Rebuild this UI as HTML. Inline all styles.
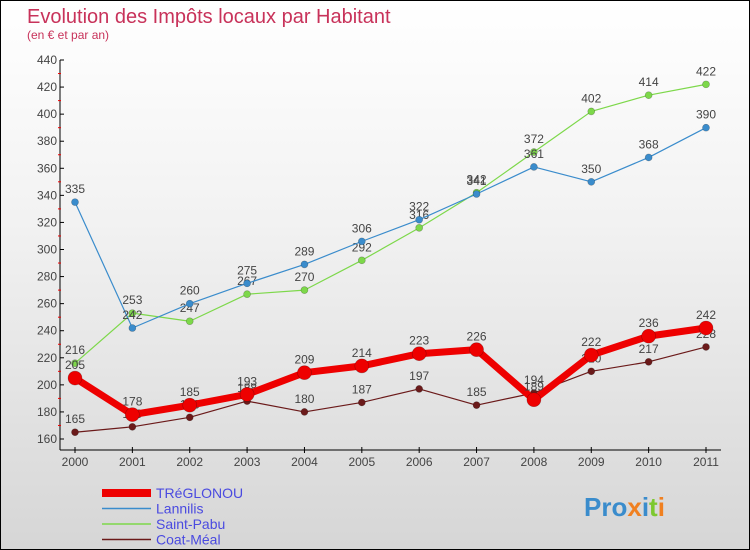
<!DOCTYPE html>
<html><head><meta charset="utf-8"><style>
body{margin:0}
#c{position:relative;width:748px;height:548px;border:1px solid #000;background:linear-gradient(#fff 0%,#f2f2f2 40%,#d6d6d6 100%);font-family:"Liberation Sans","DejaVu Sans",sans-serif;overflow:hidden}
</style></head><body>
<div id="c">
<svg id="s" width="748" height="548" xmlns="http://www.w3.org/2000/svg"></svg>
</div>
<script>
const years=[2000,2001,2002,2003,2004,2005,2006,2007,2008,2009,2010,2011];
const treglonou=[205,178,185,193,209,214,223,226,189,222,236,242];
const lannilis=[335,242,260,275,289,306,322,341,361,350,368,390];
const saintPabu=[216,253,247,267,270,292,316,342,372,402,414,422];
const coatMeal=[165,169,176,188,180,187,197,185,194,210,217,228];
const yTicks=[160,180,200,220,240,260,280,300,320,340,360,380,400,420,440];
const s=document.getElementById('s');
const NS='http://www.w3.org/2000/svg';
function X(i){return 74+i*(705-74)/11;}
function Y(v){return 438-(v-160)*(438-59)/280;}
function el(t,a,txt){const e=document.createElementNS(NS,t);for(const k in a)e.setAttribute(k,a[k]);if(txt!==undefined)e.textContent=txt;s.appendChild(e);return e;}
let e;
e=el('text',{x:26,y:22,fill:'#c8325a','font-size':20},'Evolution des Impôts locaux par Habitant');


e=el('text',{x:26,y:38,fill:'#c8325a','font-size':12},'(en € et par an)');


e=el('line',{x1:59,y1:59,x2:59,y2:449,stroke:'#000'});


e=el('line',{x1:59,y1:449,x2:720,y2:449,stroke:'#000'});


yTicks.forEach((v,i)=>{
 e=el('line',{x1:59,y1:Y(v),x2:63,y2:Y(v),stroke:'#000'});
 
 
 if(i<yTicks.length-1){e=el('line',{x1:57,y1:Y(v+10),x2:60,y2:Y(v+10),stroke:'#e00'});
 
 }
 e=el('text',{x:56,y:Y(v)+4,'text-anchor':'end','font-size':12,fill:'#444'},v);
 
 
});
years.forEach((y,i)=>{
 e=el('line',{x1:X(i),y1:446,x2:X(i),y2:452,stroke:'#000'});
 
 
 e=el('text',{x:X(i),y:465,'text-anchor':'middle','font-size':12,fill:'#444'},y);
 
 
});
function series(data,color,w,r,name){
 e=el('polyline',{points:data.map((v,i)=>X(i)+','+Y(v)).join(' '),fill:'none',stroke:color,'stroke-width':w,'stroke-linejoin':'round'});
 
 
 data.forEach((v,i)=>{
  e=el('circle',{cx:X(i),cy:Y(v),r:r,fill:color,stroke:'rgba(0,0,0,0.3)','stroke-width':0.6});
  
  
  e=el('text',{x:X(i),y:Y(v)-9,'text-anchor':'middle','font-size':12,fill:'#444'},v);
  
  
 });
}
series(coatMeal,'#6b1a1a',1.2,3.5,'coat-meal');
series(saintPabu,'#7dd84a',1.2,3.5,'saint-pabu');
series(lannilis,'#3a8ccc',1.2,3.5,'lannilis');
series(treglonou,'#ee0000',7,7,'treglonou');
const leg=[['TRéGLONOU','#ee0000',8],['Lannilis','#3a8ccc',1.5],['Saint-Pabu','#7dd84a',1.5],['Coat-Méal','#6b1a1a',1.5]];
leg.forEach((l,i)=>{
 const y=492+i*15.5;
 e=el('line',{x1:101,y1:y,x2:150,y2:y,stroke:l[1],'stroke-width':l[2]});
 
 
 e=el('text',{x:155,y:y+5,'font-size':14,fill:'#4a4ae0'},l[0]);
 
 
});
e=el('text',{x:583,y:515,'font-size':26,'font-weight':'bold',fill:'#3a8ccc'});
e.innerHTML='Pro<tspan fill="#f08020">x</tspan><tspan fill="#3a8ccc">i</tspan><tspan fill="#7dc830">t</tspan><tspan fill="#f08020">i</tspan>';


</script>
</body></html>
